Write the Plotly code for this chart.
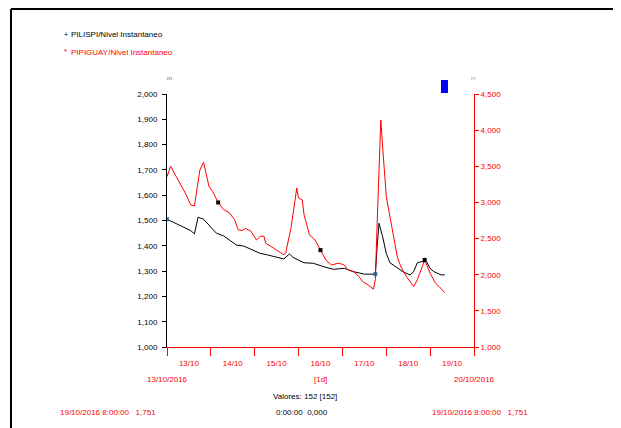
import plotly.graph_objects as go
import pandas as pd

# ---------------- data ----------------
red_hours = [0, 2, 5, 10, 13, 15, 18, 20, 23, 25, 28, 31, 34, 37, 39, 41, 43, 46, 49, 51,
             53, 54, 57, 61, 64, 65, 68, 71, 72, 74, 75, 78, 81, 84, 87, 90, 94, 97, 99, 102,
             105, 107, 110, 113, 114, 115, 117, 118, 120, 123, 126, 128, 131, 135, 137, 141,
             144, 147, 149, 152]
red_values = [3356, 3500, 3360, 3130, 2965, 2950, 3450, 3555, 3220, 3150, 3000, 2900, 2860,
              2760, 2620, 2610, 2640, 2600, 2480, 2530, 2535, 2435, 2390, 2320, 2275, 2305,
              2665, 3200, 3060, 3035, 2830, 2550, 2480, 2340, 2200, 2135, 2160, 2135, 2065,
              2045, 1975, 1905, 1860, 1800, 1930, 2710, 4140, 3770, 3080, 2665, 2250, 2110,
              1975, 1835, 1930, 2205, 2020, 1880, 1835, 1751]

black_hours = [0, 3, 9, 13, 15, 17, 20, 23, 27, 31, 34, 38, 42, 46, 51, 55, 59, 64, 67, 69,
               75, 80, 86, 91, 97, 102, 108, 114, 115, 116, 118, 120, 122, 125, 129, 133, 135,
               137, 139, 142, 144, 146, 150, 152]
black_values = [1505, 1495, 1475, 1460, 1447, 1513, 1505, 1482, 1450, 1439, 1423, 1403, 1399,
                1386, 1370, 1364, 1357, 1348, 1368, 1354, 1333, 1331, 1317, 1307, 1311, 1298,
                1288, 1288, 1396, 1489, 1436, 1370, 1333, 1317, 1298, 1285, 1298, 1333, 1337,
                1337, 1311, 1298, 1285, 1285]

red_marker_idx = [10, 33, 55]
black_marker_idx = [0, 27]

start = pd.Timestamp("2016-10-13 00:00")
end = pd.Timestamp("2016-10-20 00:00")
red_x = [start + pd.Timedelta(hours=h) for h in red_hours]
black_x = [start + pd.Timedelta(hours=h) for h in black_hours]

FONT = "Liberation Sans, Arial, sans-serif"
FS = 8
OFF = 8  # page body margin offset
W, H = 621 - OFF, 428 - OFF
L, R, T, B = 167, 474, 94, 347  # target plot box in screen pixels


def px(x):
    return (x - L) / (R - L)


def py(y):
    return (B - y) / (B - T)


fig = go.Figure()
fig.add_trace(go.Scatter(x=red_x, y=red_values, mode="lines", yaxis="y2",
                         line=dict(color="#ff0000", width=1), name="PIPIGUAY/Nivel Instantaneo"))
fig.add_trace(go.Scatter(x=black_x, y=black_values, mode="lines", yaxis="y",
                         line=dict(color="#000000", width=1), name="PILISPI/Nivel Instantaneo"))
fig.add_trace(go.Scatter(x=[red_x[i] for i in red_marker_idx],
                         y=[red_values[i] for i in red_marker_idx], mode="markers", yaxis="y2",
                         marker=dict(symbol="square", size=4, color="#000000")))
fig.add_trace(go.Scatter(x=[black_x[i] for i in black_marker_idx],
                         y=[black_values[i] for i in black_marker_idx], mode="markers", yaxis="y",
                         marker=dict(symbol="square", size=4, color="#3a6ea5")))

fig.update_layout(
    width=W, height=H,
    margin=dict(l=L - OFF, r=W - (R - OFF), t=T - OFF, b=H - (B - OFF)),
    paper_bgcolor="white", plot_bgcolor="white",
    showlegend=False,
    font=dict(family=FONT, size=FS, color="#000000"),
    xaxis=dict(type="date", range=[start, end], showgrid=False, zeroline=False,
               showline=True, linecolor="#ff0000", linewidth=1,
               ticks="outside", ticklen=8, tickcolor="#ff0000",
               dtick=86400000, tick0=start, tickformat="%d/%m", ticklabelmode="period",
               tickfont=dict(color="#ff0000", size=FS, family=FONT)),
    yaxis=dict(range=[1000, 2000], dtick=100, tickformat=",", showgrid=False, zeroline=False,
               showline=True, linecolor="#000000", linewidth=1,
               ticks="outside", ticklen=4, tickcolor="#000000", ticklabelstandoff=3,
               tickfont=dict(color="#000000", size=FS, family=FONT)),
    yaxis2=dict(range=[1000, 4500], dtick=500, tickformat=",", overlaying="y", side="right",
                showgrid=False, zeroline=False,
                showline=True, linecolor="#ff0000", linewidth=1,
                ticks="outside", ticklen=4, tickcolor="#ff0000",
                tickfont=dict(color="#ff0000", size=FS, family=FONT)),
)

annotations = [
    dict(x=px(62), y=py(34), text="+", font=dict(size=7, color="#000000")),
    dict(x=px(69), y=py(34), text="PILISPI/Nivel Instantaneo", font=dict(size=FS, color="#000000")),
    dict(x=px(62), y=py(51), text="*", font=dict(size=8, color="#ff0000")),
    dict(x=px(69), y=py(52), text="PIPIGUAY/Nivel Instantaneo", font=dict(size=FS, color="#ff0000")),
    dict(x=px(165), y=py(78), text="m", font=dict(size=6, color="#555555")),
    dict(x=px(469), y=py(78), text="m", font=dict(size=6, color="#ff8080")),
    dict(x=px(167), y=py(379), text="13/10/2016", font=dict(size=FS, color="#ff0000"), xanchor="center"),
    dict(x=px(320), y=py(379), text="[1d]", font=dict(size=FS, color="#ff0000"), xanchor="center"),
    dict(x=px(474), y=py(379), text="20/10/2016", font=dict(size=FS, color="#ff0000"), xanchor="center"),
    dict(x=px(305), y=py(396), text="Valores: 152 [152]", font=dict(size=FS, color="#000000"), xanchor="center"),
    dict(x=px(302), y=py(412), text="0:00:00&nbsp;&nbsp;0,000", font=dict(size=FS, color="#000000"), xanchor="center"),
    dict(x=px(58), y=py(412), text="19/10/2016 8:00:00&nbsp;&nbsp;&nbsp;1,751",
         font=dict(size=FS, color="#ff0000")),
    dict(x=px(430), y=py(412), text="19/10/2016 8:00:00&nbsp;&nbsp;&nbsp;1,751",
         font=dict(size=FS, color="#ff0000")),
]
for a in annotations:
    a.setdefault("xanchor", "left")
    a.update(xref="paper", yref="paper", yanchor="middle", showarrow=False)
    a["font"]["family"] = FONT
fig.update_layout(annotations=annotations)

fig.update_layout(shapes=[
    dict(type="rect", xref="paper", yref="paper", x0=px(441), x1=px(448), y0=py(93), y1=py(80),
         fillcolor="#0000ff", line=dict(width=0)),
    dict(type="line", xref="paper", yref="paper", x0=px(11), x1=px(621), y0=py(9), y1=py(9),
         line=dict(color="#000000", width=2)),
    dict(type="line", xref="paper", yref="paper", x0=px(11), x1=px(11), y0=py(9), y1=py(430),
         line=dict(color="#000000", width=2)),
    dict(type="line", xref="paper", yref="paper", x0=px(617), x1=px(617), y0=py(9), y1=py(430),
         line=dict(color="#000000", width=2)),
])

fig.write_html("out.html")
